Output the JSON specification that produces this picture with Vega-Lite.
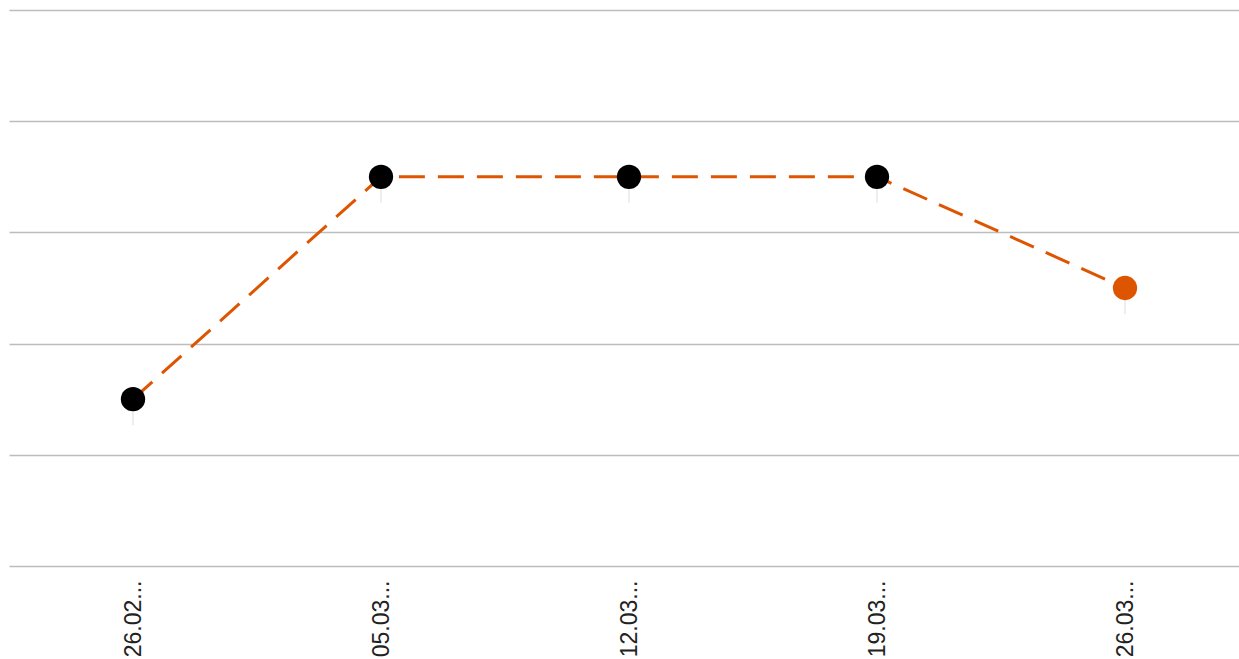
{
  "$schema": "https://vega.github.io/schema/vega-lite/v6.json",
  "width": 1240,
  "height": 556,
  "autosize": {"type": "none"},
  "padding": {"left": 9, "top": 10, "right": 0, "bottom": 93},
  "background": "white",
  "config": {"view": {"stroke": null}, "font": "Liberation Sans"},
  "data": {"values": [
    {"date": "26.02.2025", "value": 1.5},
    {"date": "05.03.2025", "value": 3.5},
    {"date": "12.03.2025", "value": 3.5},
    {"date": "19.03.2025", "value": 3.5},
    {"date": "26.03.2025", "value": 2.5}
  ]},
  "encoding": {
    "x": {"field": "date", "type": "ordinal", "sort": null,
      "scale": {"type": "point", "padding": 0.5},
      "axis": {"title": null, "labelAngle": -90, "labelAlign": "right", "labelBaseline": "middle",
        "labelExpr": "slice(datum.label, 0, 5) + '...'", "labelFontSize": 23, "labelColor": "#222",
        "labelPadding": 14, "ticks": false, "domain": false, "grid": false}},
    "y": {"field": "value", "type": "quantitative",
      "scale": {"domain": [0, 5], "nice": false},
      "axis": {"title": null, "labels": false, "ticks": false, "domain": false,
        "values": [0, 1, 2, 3, 4, 5], "labelOverlap": false,
        "grid": true, "gridColor": "#bdbdbd", "gridWidth": 1.5}}
  },
  "layer": [
    {"mark": {"type": "rule", "color": "#dddddd", "strokeWidth": 1, "y2Offset": 26},
     "encoding": {"y2": {"field": "value"}}},
    {"mark": {"type": "line", "color": "#dd5500", "strokeWidth": 3, "strokeDash": [26, 13]}},
    {"mark": {"type": "circle", "size": 590, "opacity": 1},
     "encoding": {"color": {"condition": {"test": "datum.date === '26.03.2025'", "value": "#dd5500"}, "value": "#000000"}}}
  ]
}
